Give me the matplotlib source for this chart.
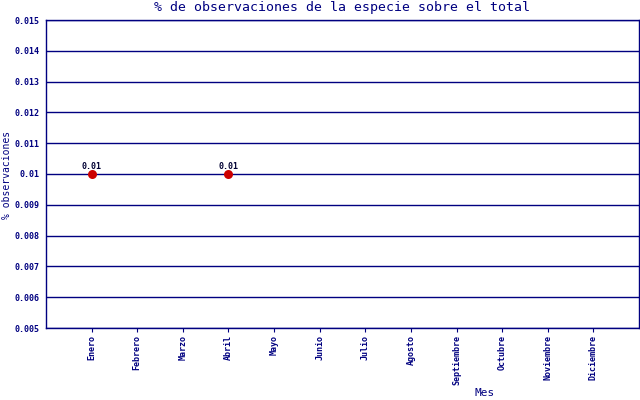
import matplotlib
matplotlib.use("Agg")
import matplotlib.pyplot as plt

months = ["Enero", "Febrero", "Marzo", "Abril", "Mayo", "Junio", "Julio",
          "Agosto", "Septiembre", "Octubre", "Noviembre", "Diciembre"]
point_months = ["Enero", "Abril"]
point_values = [0.01, 0.01]
point_labels = ["0.01", "0.01"]
yticks = [0.005, 0.006, 0.007, 0.008, 0.009, 0.01, 0.011, 0.012, 0.013, 0.014, 0.015]
ytick_labels = ["0.005", "0.006", "0.007", "0.008", "0.009", "0.01", "0.011",
                "0.012", "0.013", "0.014", "0.015"]

navy = "#000080"
mono = "DejaVu Sans Mono"

fig = plt.figure(figsize=(6.4, 4.0), dpi=100)
ax = fig.add_axes([46/640, 72/400, 593/640, 308/400])

ax.set_xlim(-1, len(months))
ax.set_ylim(yticks[0], yticks[-1])

for y in yticks:
    ax.axhline(y, color=navy, linewidth=1.0, zorder=1)

xs = [months.index(m) for m in point_months]
ax.scatter(xs, point_values, s=42, color="#cc0000", zorder=3, linewidths=0)
for x, v, lab in zip(xs, point_values, point_labels):
    ax.annotate(lab, (x, v), xytext=(0, 2.5), textcoords="offset points",
                ha="center", va="bottom", fontsize=6, family=mono,
                fontweight="bold", color="#000033")

ax.set_xticks(range(len(months)))
ax.set_xticklabels(months, rotation=90, fontsize=6, family=mono,
                   fontweight="bold", color=navy)
ax.set_yticks(yticks)
ax.set_yticklabels(ytick_labels, fontsize=6, family=mono, fontweight="bold",
                   color=navy)
ax.tick_params(axis="x", direction="out", length=3, color=navy, pad=2)
ax.tick_params(axis="y", length=0, pad=5)

for s in ax.spines.values():
    s.set_color(navy)
    s.set_linewidth(1.0)

fig.text(342/640, 1 - 8/400, "% de observaciones de la especie sobre el total",
         ha="center", va="center", fontsize=9.5, family=mono, color=navy)
fig.text(485/640, 1 - 393/400, "Mes", ha="center", va="center", fontsize=8,
         family=mono, color=navy)
fig.text(7/640, 1 - 175/400, "% observaciones", ha="center", va="center",
         rotation=90, fontsize=7, family=mono, color=navy)

fig.savefig("out.png", dpi=100, facecolor="white")
